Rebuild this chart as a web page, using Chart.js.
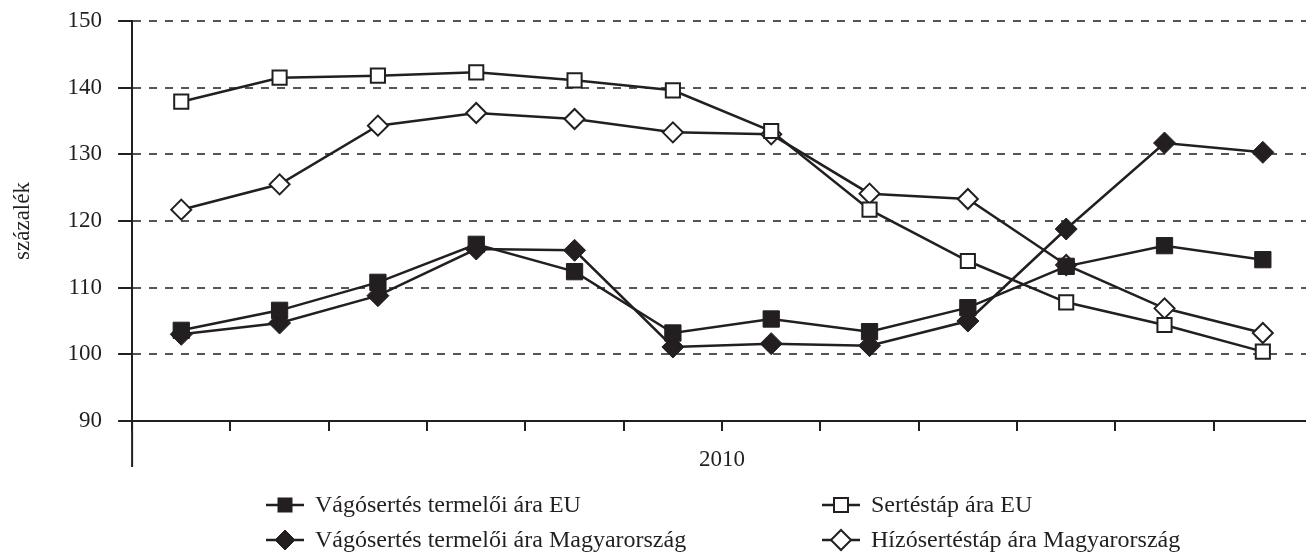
<!DOCTYPE html>
<html>
<head>
<meta charset="utf-8">
<script src="https://cdn.jsdelivr.net/npm/chart.js@4"></script>
<style>
body { margin: 0; background: #fff; overflow: hidden; }
#wrap { position: relative; width: 1306px; height: 555px; overflow: hidden; }
#chart { position: absolute; left: 0; top: 0; }
.item { position: absolute; display: flex; align-items: center; height: 35px; white-space: nowrap;
        font-family: "Liberation Serif", "Times New Roman", serif; font-size: 24px; color: #231f20; }
.item svg { margin-right: 11px; }
</style>
</head>
<body>
<div id="wrap">
  <canvas id="chart" width="1314" height="555"></canvas>
  <div id="legend"></div>
</div>
<script>
// months of 2010 (not printed on the axis)
var months = ['jan', 'febr', 'márc', 'ápr', 'máj', 'jún', 'júl', 'aug', 'szept', 'okt', 'nov', 'dec'];
var yTicks = [90, 100, 110, 120, 130, 140, 150];

var vagoEU = [103.6, 106.6, 110.8, 116.5, 112.4, 103.2, 105.3, 103.4, 107.0, 113.2, 116.3, 114.2];
var taplEU = [137.9, 141.5, 141.8, 142.3, 141.1, 139.6, 133.5, 121.7, 114.0, 107.8, 104.4, 100.4];
var vagoHU = [103.0, 104.7, 108.8, 115.8, 115.6, 101.1, 101.6, 101.3, 105.0, 118.8, 131.7, 130.3];
var hizoHU = [121.7, 125.5, 134.3, 136.2, 135.3, 133.3, 133.0, 124.1, 123.3, 113.4, 106.9, 103.2];

var ink = '#231f20';
Chart.defaults.font.family = '"Liberation Serif", "Times New Roman", serif';
Chart.defaults.font.size = 23;
Chart.defaults.color = ink;

function series(label, data, style, radius, filled) {
    return {
        label: label,
        data: data,
        borderColor: ink,
        borderWidth: 2.5,
        pointStyle: style,
        pointRadius: radius,
        pointHoverRadius: radius,
        pointBackgroundColor: filled ? ink : '#fff',
        pointBorderColor: ink,
        pointBorderWidth: filled ? 1 : 2,
        tension: 0,
        fill: false
    };
}

var datasets = [
    series('Vágósertés termelői ára EU', vagoEU, 'rect', 11.5, true),
    series('Sertéstáp ára EU', taplEU, 'rect', 10, false),
    series('Vágósertés termelői ára Magyarország', vagoHU, 'rectRot', 11, true),
    series('Hízósertéstáp ára Magyarország', hizoHU, 'rectRot', 10, false)
];

// y axis continues a little below the category axis
var axisExtend = {
    id: 'axisExtend',
    afterDraw: function (chart) {
        var ctx = chart.ctx, y = chart.scales.y, area = chart.chartArea;
        ctx.save();
        ctx.strokeStyle = ink;
        ctx.lineWidth = 2;
        ctx.beginPath();
        ctx.moveTo(y.right, area.bottom);
        ctx.lineTo(y.right, area.bottom + 46);
        ctx.stroke();
        ctx.restore();
    }
};

function noPadding(axis) {
    axis.paddingTop = 0;
    axis.paddingBottom = 0;
    axis.paddingLeft = 0;
    axis.paddingRight = 0;
}

var chart = new Chart(document.getElementById('chart'), {
    type: 'line',
    data: { labels: months, datasets: datasets },
    plugins: [axisExtend],
    options: {
        responsive: false,
        animation: false,
        layout: { autoPadding: false, padding: { left: 9, top: 21, right: 2, bottom: 81 } },
        plugins: { legend: { display: false }, tooltip: { enabled: false } },
        scales: {
            x: {
                offset: true,
                afterFit: noPadding,
                grid: { offset: true, drawOnChartArea: false, drawTicks: true, tickLength: 10, color: ink, lineWidth: 2 },
                ticks: { display: false },
                border: { color: ink, width: 2 },
                title: { display: true, text: '2010', padding: { top: 15.4, bottom: 0 } }
            },
            y: {
                min: yTicks[0],
                max: yTicks[yTicks.length - 1],
                afterFit: noPadding,
                afterBuildTicks: function (axis) { axis.ticks = yTicks.map(function (v) { return { value: v }; }); },
                ticks: { padding: 16 },
                grid: { color: '#555', lineWidth: 2, tickLength: 14, tickColor: ink, tickWidth: 2, tickBorderDash: [] },
                border: { color: ink, width: 2, dash: [8, 8] },
                title: { display: true, text: 'százalék', padding: { top: 0, bottom: 15 } }
            }
        }
    }
});

// legend in two columns, like the original
var legendPos = [[266, 487], [822, 487], [266, 522], [822, 522]];
function icon(ds) {
    var filled = ds.pointBackgroundColor === ink;
    var fill = filled ? ink : '#fff';
    var mark = ds.pointStyle === 'rect'
        ? '<rect x="12" y="10" width="14" height="14" fill="' + fill + '" stroke="' + ink + '" stroke-width="' + (filled ? 1 : 2) + '"/>'
        : '<polygon points="19,7 29,17 19,27 9,17" fill="' + fill + '" stroke="' + ink + '" stroke-width="' + (filled ? 1 : 2) + '"/>';
    return '<svg width="38" height="34"><line x1="0" y1="17" x2="38" y2="17" stroke="' + ink + '" stroke-width="2.5"/>' + mark + '</svg>';
}
document.getElementById('legend').innerHTML = datasets.map(function (ds, k) {
    return '<div class="item" style="left:' + legendPos[k][0] + 'px;top:' + legendPos[k][1] + 'px">' + icon(ds) + '<span>' + ds.label + '</span></div>';
}).join('');
</script>
</body>
</html>
